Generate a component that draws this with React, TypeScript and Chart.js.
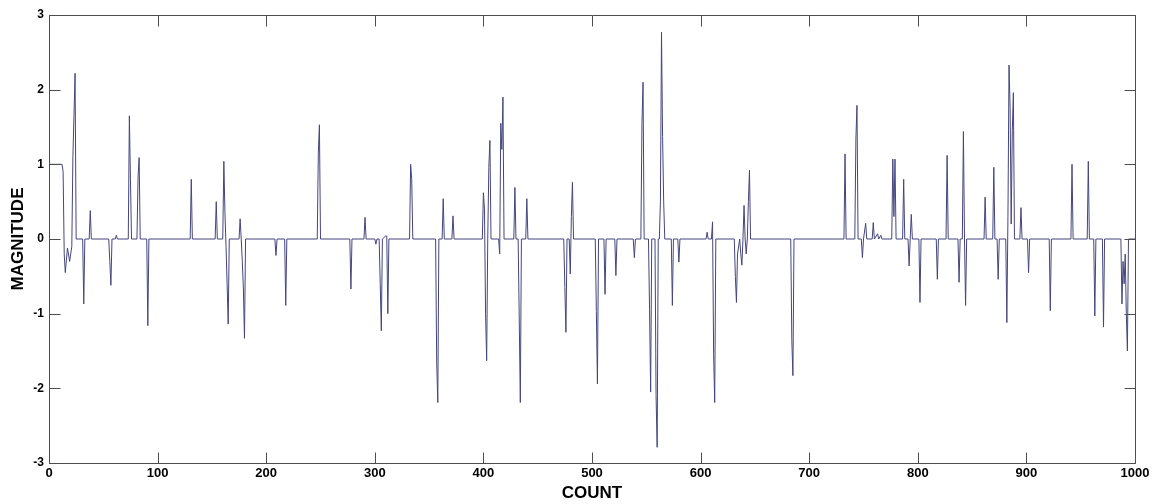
import React, { useEffect, useRef } from "react";
import { Chart, registerables } from "chart.js";

Chart.register(...registerables);

// Sample index (COUNT) and signal value (MAGNITUDE) at each vertex of the trace
const COUNT: number[] = [
  0, 12, 13, 14, 15, 17, 19, 21, 22, 23, 24, 25,
  31, 32, 33, 37, 38, 39, 55, 56, 57, 58, 61, 62, 63,
  73, 74, 75, 76, 81, 82, 83, 84, 90, 91, 92,
  130, 131, 132, 153, 154, 155,
  160, 161, 162, 163, 164, 165, 166,
  175, 176, 177, 178, 179, 180, 181,
  208, 209, 210, 217, 218, 219,
  247, 248, 249, 250,
  277, 278, 279, 290, 291, 292,
  300, 301, 302, 304, 305, 306, 307, 310, 311, 312, 313,
  332, 333, 334, 335,
  356, 357, 358, 359, 362, 363, 364, 371, 372, 373,
  399, 400, 401, 402, 403, 404, 405, 406, 407,
  414, 415, 416, 417, 418, 419,
  428, 429, 430, 432, 433, 434, 435, 439, 440, 441,
  474, 475, 476, 477, 479, 480, 481, 482, 483,
  503, 504, 505, 506, 511, 512, 513, 521, 522, 523,
  538, 539, 540, 545, 546, 547, 548,
  552, 553, 554, 555, 558, 559, 560, 561,
  562, 563, 564, 565, 566, 567,
  573, 574, 575, 579, 580, 581,
  605, 606, 607, 610, 611, 612, 613, 614,
  631, 632, 633, 634, 636, 637, 638, 639, 640, 641, 642, 643, 644, 645, 646,
  683, 684, 685, 686,
  732, 733, 734, 742, 743, 744, 745,
  748, 749, 750, 752, 753, 758, 759, 760, 763, 764, 766, 767,
  776, 777, 778, 779, 780, 786, 787, 788,
  791, 792, 793, 794, 795, 801, 802, 803,
  817, 818, 819, 826, 827, 828,
  837, 838, 839, 841, 842, 843, 844, 845,
  861, 862, 863, 869, 870, 871, 873, 874, 875,
  881, 882, 883, 884, 885, 886, 887, 888, 889,
  894, 895, 896, 901, 902, 903,
  921, 922, 923, 941, 942, 943, 956, 957, 958,
  962, 963, 964, 970, 971, 972,
  987, 988, 989, 990, 991, 992, 993, 994, 1000,
];

const MAGNITUDE: number[] = [
  1, 1, 0.9, -0.2, -0.45, -0.12, -0.3, -0.1, 1.1, 1.65, 2.22, 0,
  0, -0.87, 0, 0, 0.38, 0, 0, -0.3, -0.62, 0, 0, 0.05, 0,
  0, 1.65, 0.8, 0, 0, 0.83, 1.09, 0, 0, -1.16, 0,
  0, 0.8, 0, 0, 0.5, 0,
  0, 1.04, 0.36, -0.1, -0.6, -1.14, 0,
  0, 0.27, 0, -0.3, -0.67, -1.33, 0,
  0, -0.22, 0, 0, -0.89, 0,
  0, 1.15, 1.53, 0,
  0, -0.67, 0, 0, 0.29, 0,
  0, -0.07, 0, 0, -0.6, -1.23, 0, 0.04, 0.04, -1.0, 0,
  0, 1.0, 0.8, 0,
  0, -1.65, -2.19, 0, 0, 0.54, 0, 0, 0.31, 0,
  0, 0.62, 0.4, -1.0, -1.63, 0, 0.96, 1.32, 0,
  0, -0.2, 1.55, 1.2, 1.9, 0,
  0, 0.69, 0, 0, -1.07, -2.19, 0, 0, 0.54, 0,
  0, -0.65, -1.25, 0, 0, -0.47, 0.3, 0.76, 0,
  0, -0.97, -1.94, 0, 0, -0.74, 0, 0, -0.49, 0,
  0, -0.25, 0, 0, 1.55, 2.1, 0,
  0, -0.95, -2.05, 0, 0, -2.1, -2.79, 0,
  0, 0.5, 2.77, 1.37, 0.5, 0,
  0, -0.89, 0, 0, -0.31, 0,
  0, 0.09, 0, 0, 0.23, -1.55, -2.19, 0,
  0, -0.5, -0.85, -0.2, 0, -0.2, -0.35, 0, 0.45, 0, -0.2, 0, 0.5, 0.92, 0,
  0, -1.36, -1.83, 0,
  0, 1.14, 0, 0, 1.34, 1.79, 0,
  0, -0.25, 0, 0.21, 0, 0, 0.22, 0, 0.07, 0, 0.05, 0,
  0, 1.07, 0.3, 1.07, 0, 0, 0.8, 0,
  0, -0.36, 0, 0.33, 0, 0, -0.85, 0,
  0, -0.54, 0, 0, 1.12, 0,
  0, -0.58, 0, 0, 1.44, 0, -0.89, 0,
  0, 0.56, 0, 0, 0.96, 0, 0, -0.54, 0,
  0, -1.12, 0.3, 2.33, 1.75, 0.2, 1.45, 1.96, 0,
  0, 0.42, 0, 0, -0.45, 0,
  0, -0.96, 0, 0, 1.0, 0, 0, 1.04, 0,
  0, -1.03, 0, 0, -1.18, 0,
  0, -0.87, -0.3, -0.6, -0.2, -1.0, -1.5, 0, 0,
];

const X_TICKS: number[] = [0, 100, 200, 300, 400, 500, 600, 700, 800, 900, 1000];
const Y_TICKS: number[] = [-3, -2, -1, 0, 1, 2, 3];

const FRAME = "#4d4d4d";
const LINE = "#45457e";
const TICK_LEN = 11;
const FONT_FAMILY = "'Liberation Sans', Arial, sans-serif";

const framePlugin = {
  id: "matlabFrame",
  afterDatasetsDraw(chart: any) {
    const { ctx, chartArea } = chart;
    const xs = chart.scales.x;
    const ys = chart.scales.y;
    const l = Math.round(chartArea.left) + 0.5;
    const r = Math.round(chartArea.right) + 0.5;
    const t = Math.round(chartArea.top) + 0.5;
    const b = Math.round(chartArea.bottom) + 0.5;
    ctx.save();
    ctx.strokeStyle = FRAME;
    ctx.lineWidth = 1;
    ctx.beginPath();
    ctx.rect(l, t, r - l, b - t);
    for (const v of X_TICKS) {
      const px = Math.round(xs.getPixelForValue(v)) + 0.5;
      ctx.moveTo(px, b);
      ctx.lineTo(px, b - TICK_LEN);
      ctx.moveTo(px, t);
      ctx.lineTo(px, t + TICK_LEN);
    }
    for (const v of Y_TICKS) {
      const py = Math.round(ys.getPixelForValue(v)) + 0.5;
      ctx.moveTo(l, py);
      ctx.lineTo(l + TICK_LEN, py);
      ctx.moveTo(r, py);
      ctx.lineTo(r - TICK_LEN, py);
    }
    ctx.stroke();
    ctx.restore();
  },
};

export default function App() {
  const ref = useRef<HTMLCanvasElement | null>(null);

  useEffect(() => {
    document.body.style.margin = "0";
    const canvas = ref.current;
    if (!canvas) return;
    const points = COUNT.map((c, i) => ({ x: c, y: MAGNITUDE[i] }));
    const chart = new Chart(canvas, {
      type: "line",
      data: {
        datasets: [
          {
            data: points,
            borderColor: LINE,
            borderWidth: 1,
            pointRadius: 0,
            tension: 0,
            fill: false,
          },
        ],
      },
      options: {
        animation: false,
        responsive: false,
        devicePixelRatio: 1,
        events: [],
        layout: { padding: { top: 15, right: 20, bottom: 0, left: 0 } },
        plugins: {
          legend: { display: false },
          tooltip: { enabled: false },
          title: { display: false },
        },
        scales: {
          x: {
            type: "linear",
            min: 0,
            max: 1000,
            afterFit: (s: any) => {
              s.height = 41;
            },
            afterBuildTicks: (s: any) => {
              s.ticks = X_TICKS.map((v) => ({ value: v }));
            },
            grid: { display: false, drawTicks: false, tickLength: 0 },
            border: { display: false },
            ticks: {
              color: "#000",
              font: { family: FONT_FAMILY, size: 13, weight: "bold" },
              padding: 3,
              maxRotation: 0,
              autoSkip: false,
              callback: (v: any) => String(v),
            },
            title: {
              display: true,
              text: "COUNT",
              color: "#000",
              font: { family: FONT_FAMILY, size: 17, weight: "bold" },
              padding: { top: 0, bottom: 0 },
            },
          },
          y: {
            type: "linear",
            min: -3,
            max: 3,
            afterFit: (s: any) => {
              s.width = 49;
            },
            afterBuildTicks: (s: any) => {
              s.ticks = Y_TICKS.map((v) => ({ value: v }));
            },
            grid: { display: false, drawTicks: false, tickLength: 0 },
            border: { display: false },
            ticks: {
              color: "#000",
              font: { family: FONT_FAMILY, size: 12, weight: "bold" },
              padding: 5,
              autoSkip: false,
              callback: (v: any) => String(v),
            },
            title: {
              display: true,
              text: "MAGNITUDE",
              color: "#000",
              font: { family: FONT_FAMILY, size: 17, weight: "bold" },
              padding: { top: 8, bottom: 0 },
            },
          },
        },
      },
      plugins: [framePlugin],
    });
    return () => chart.destroy();
  }, []);

  return (
    <div style={{ position: "absolute", left: 0, top: 0, width: 1155, height: 504, background: "#fff" }}>
      <canvas ref={ref} width={1155} height={504} />
    </div>
  );
}
